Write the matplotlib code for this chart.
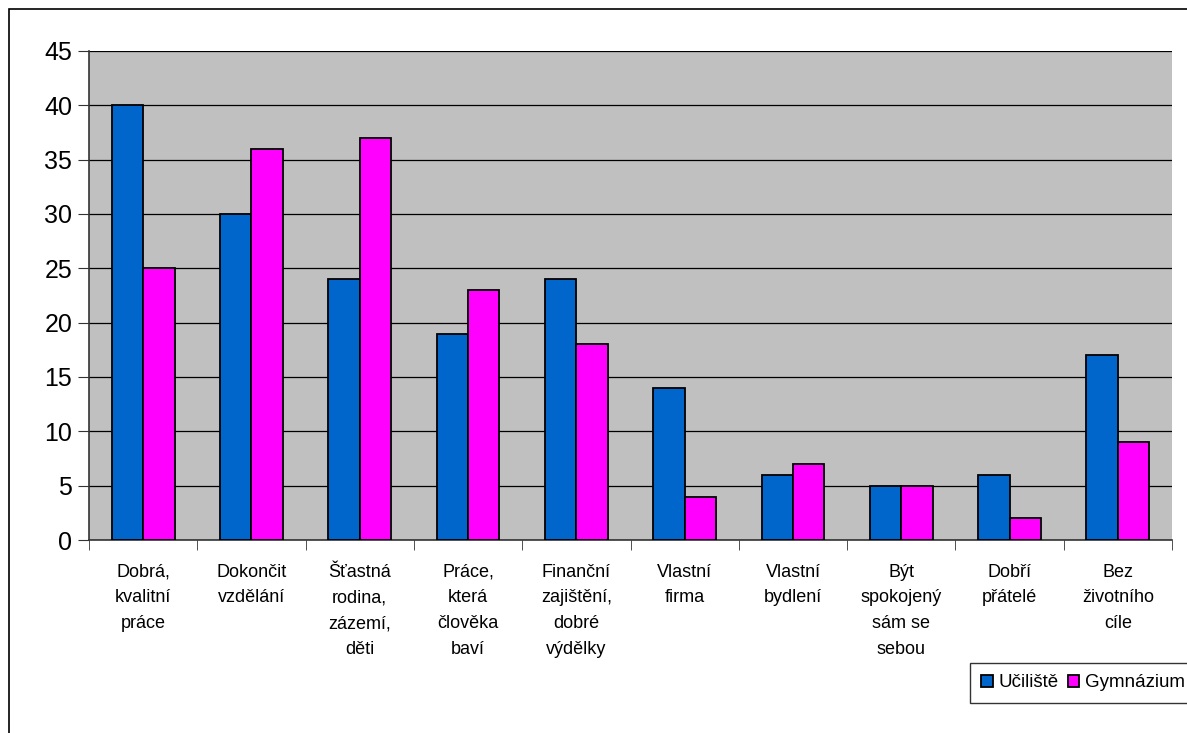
import matplotlib.pyplot as plt
import numpy as np
from matplotlib.patches import Rectangle

plt.rcParams['font.family'] = ['Liberation Sans', 'DejaVu Sans']

categories = ['Dobrá,\nkvalitní\npráce', 'Dokončit\nvzdělání', 'Šťastná\nrodina,\nzázemí,\nděti',
              'Práce,\nkterá\nčlověka\nbaví', 'Finanční\nzajištění,\ndobré\nvýdělky', 'Vlastní\nfirma',
              'Vlastní\nbydlení', 'Být\nspokojený\nsám se\nsebou', 'Dobří\npřátelé', 'Bez\nživotního\ncíle']
uciliste = [40, 30, 24, 19, 24, 14, 6, 5, 6, 17]
gymnazium = [25, 36, 37, 23, 18, 4, 7, 5, 2, 9]

fig = plt.figure(figsize=(11.87, 7.33), dpi=100)
ax = fig.add_axes([89 / 1187, 193 / 733, 1083 / 1187, 489 / 733])
ax.set_facecolor('#C0C0C0')

x = np.arange(len(categories))
w = 0.29
ax.bar(x - w / 2, uciliste, w, color='#0066CC', edgecolor='black', linewidth=1.3,
       label='Učiliště', zorder=3)
ax.bar(x + w / 2, gymnazium, w, color='#FF00FF', edgecolor='black', linewidth=1.3,
       label='Gymnázium', zorder=3)

ax.set_xlim(-0.5, len(categories) - 0.5)
ax.set_ylim(0, 45)
ax.set_yticks(range(0, 46, 5))
ax.yaxis.grid(True, color='black', linewidth=0.9, zorder=1)
ax.tick_params(axis='y', labelsize=18, length=8, color='#333333', pad=4)

# labels at the centres, tick marks on the category boundaries
ax.set_xticks(x)
ax.set_xticklabels(categories, fontsize=13, linespacing=1.68, va='top')
ax.set_xticks(np.arange(-0.5, len(categories)), minor=True)
ax.tick_params(axis='x', which='major', length=0, pad=17)
ax.tick_params(axis='x', which='minor', length=7, color='#333333')

for side in ['top', 'right']:
    ax.spines[side].set_visible(False)
for side in ['left', 'bottom']:
    ax.spines[side].set_color('#333333')
    ax.spines[side].set_linewidth(1.2)

# border around the whole chart area
fig.patches.append(Rectangle((9 / 1187, -0.1), 1.2, 1.1 - 9 / 733, transform=fig.transFigure,
                             fill=False, edgecolor='black', linewidth=1.2))

leg = fig.legend(loc='upper left', bbox_to_anchor=(970 / 1187, 1 - 663 / 733), ncol=2,
                 fontsize=13.5, frameon=True, fancybox=False, edgecolor='black',
                 handlelength=0.6, handleheight=0.6, handletextpad=0.3, columnspacing=0.5,
                 borderpad=0.6, borderaxespad=0)
leg.get_frame().set_linewidth(1.0)

fig.savefig('out.png', dpi=100)
